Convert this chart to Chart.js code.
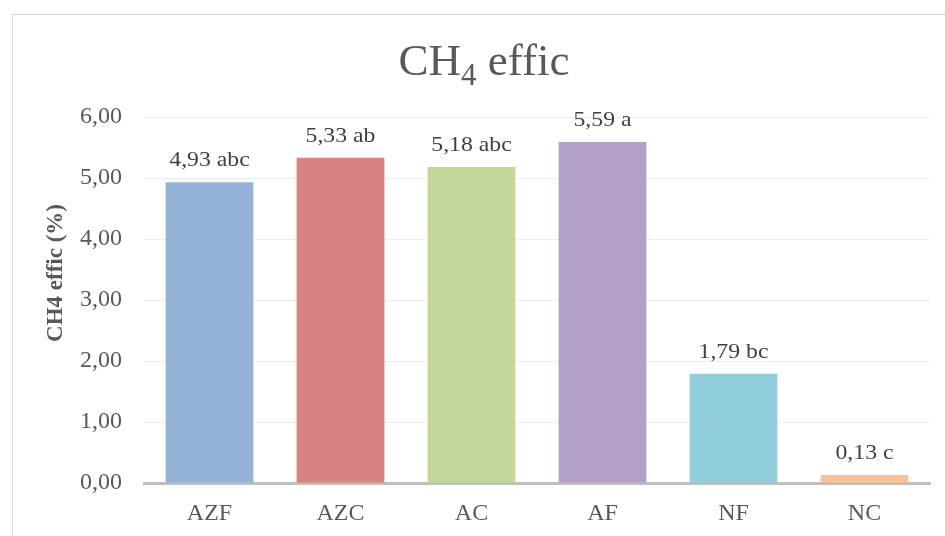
<!DOCTYPE html>
<html>
<head>
<meta charset="utf-8">
<script src="https://cdn.jsdelivr.net/npm/chart.js@4/dist/chart.umd.min.js"></script>
<style>
  body { margin: 0; background: #fff; overflow: hidden; }
  #wrap { position: relative; width: 945px; height: 536px; }
  #frame { position: absolute; left: 12px; top: 14px; width: 960px; height: 560px; border: 1px solid #D9D9D9; box-sizing: border-box; }
  canvas { position: absolute; left: 0; top: 0; }
</style>
</head>
<body>
<div id="wrap">
  <div id="frame"></div>
  <canvas id="barcanvas" width="945" height="536"></canvas>
</div>
<script>
var categories = ['AZF', 'AZC', 'AC', 'AF', 'NF', 'NC'];
var values = [4.93, 5.33, 5.18, 5.59, 1.79, 0.13];
var letters = ['abc', 'ab', 'abc', 'a', 'bc', 'c'];
var colors = ['#95B3D7', '#D68280', '#C4D79B', '#B2A1C7', '#92CDDC', '#FAC090'];
var yTicks = [0, 1, 2, 3, 4, 5, 6];

var serif = '"Liberation Serif", "Times New Roman", serif';

function fmt(v) {
	return v.toFixed(2).replace('.', ',');
}

// draws stretched text centred on x
function wideText(ctx, txt, x, y, sx) {
	ctx.save();
	ctx.translate(x, y);
	ctx.scale(sx, 1);
	ctx.fillText(txt, 0, 0);
	ctx.restore();
}

var textPlugin = {
	id: 'texts',
	afterDatasetsDraw: function(chart) {
		var ctx = chart.ctx;
		ctx.save();
		// bar labels
		var meta = chart.getDatasetMeta(0);
		ctx.fillStyle = '#404040';
		ctx.font = '22px ' + serif;
		ctx.textAlign = 'center';
		ctx.textBaseline = 'alphabetic';
		meta.data.forEach(function(bar, i) {
			wideText(ctx, fmt(values[i]) + ' ' + letters[i], bar.x, bar.y - 16, 1.08);
		});
		// title with subscript
		ctx.fillStyle = '#595959';
		ctx.textAlign = 'left';
		var a = 'CH', b = ' effic';
		ctx.font = '45px ' + serif;
		var wa = ctx.measureText(a).width, wb = ctx.measureText(b).width;
		ctx.font = '31px ' + serif;
		var ws = ctx.measureText('4').width;
		var x0 = 484 - (wa + ws + wb) / 2;
		ctx.font = '45px ' + serif;
		ctx.fillText(a, x0, 75);
		ctx.font = '31px ' + serif;
		ctx.fillText('4', x0 + wa, 85);
		ctx.font = '45px ' + serif;
		ctx.fillText(b, x0 + wa + ws, 75);
		ctx.restore();
		// y axis title
		ctx.save();
		ctx.translate(56, 273);
		ctx.rotate(-Math.PI / 2);
		ctx.textAlign = 'center';
		ctx.textBaseline = 'middle';
		ctx.fillStyle = '#595959';
		ctx.font = 'bold 23px ' + serif;
		ctx.fillText('CH4 effic (%)', 0, 0);
		ctx.restore();
	}
};

var chartdata = {
	labels: categories,
	datasets: [{
		label: 'CH4 effic',
		data: values,
		backgroundColor: colors,
		borderWidth: 0,
		categoryPercentage: 1,
		barPercentage: 0.67
	}]
};

var barGraph = new Chart(document.getElementById('barcanvas'), {
	type: 'bar',
	data: chartdata,
	options: {
		responsive: false,
		animation: false,
		layout: { padding: { top: 117, right: 15, left: 0, bottom: 0 } },
		plugins: { legend: { display: false }, tooltip: { enabled: false } },
		scales: {
			x: {
				grid: { display: false },
				border: { color: '#BFBFBF', width: 3 },
				ticks: { color: '#595959', font: { family: serif, size: 24 }, padding: 8 },
				afterFit: function(s) { s.height = 53; }
			},
			y: {
				min: 0,
				max: 6,
				afterBuildTicks: function(s) { s.ticks = yTicks.map(function(v) { return { value: v }; }); },
				grid: { color: '#EDEDED', lineWidth: 1, drawTicks: false },
				border: { display: false },
				ticks: {
					color: '#595959',
					font: { family: serif, size: 24 },
					padding: 22,
					callback: function(v) { return fmt(v); }
				},
				afterFit: function(s) { s.width = 144; }
			}
		}
	},
	plugins: [textPlugin]
});
</script>
</body>
</html>
